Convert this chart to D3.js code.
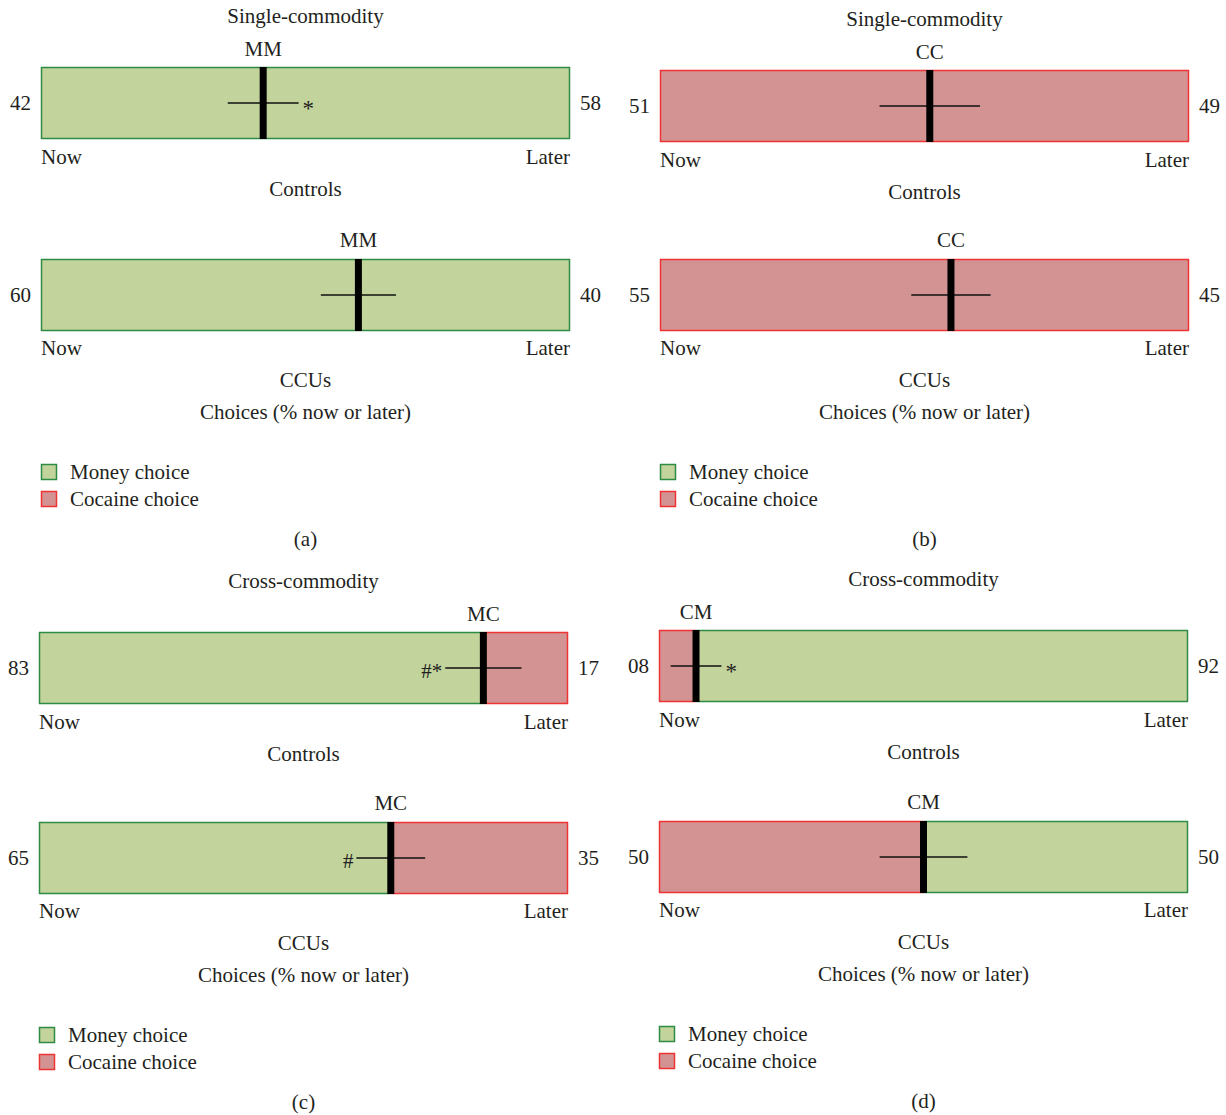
<!DOCTYPE html>
<html lang="en">
<head>
    <meta charset="UTF-8">
    <script src="https://cdn.jsdelivr.net/npm/d3@7"></script>
    <title>Now or later choices</title>
    <style>
        body { margin: 0; background: white; }
        svg text {
            font-family: 'Liberation Serif', 'DejaVu Serif', serif;
            font-size: 21px;
            fill: #231f20;
        }
    </style>
</head>
<body>
<div id="chart"></div>
<script>
    // Chart values
    const panelIds = ["(a)", "(b)", "(c)", "(d)"];
    const panelTitles = ["Single-commodity", "Single-commodity", "Cross-commodity", "Cross-commodity"];
    const rowLabels = [["MM", "MM"], ["CC", "CC"], ["MC", "MC"], ["CM", "CM"]];
    const groupNames = ["Controls", "CCUs"];
    const nowPct = [[42, 60], [51, 55], [83, 65], [8, 50]];          // printed % now
    const meanPct = [[42, 60], [51, 55], [84, 66.5], [7, 50]];       // thick line position
    const errPct = [[6.7, 7.1], [9.5, 7.5], [7.2, 6.5], [4.8, 8.3]];  // half width of error bar
    const nowCommodity = [["money", "money"], ["cocaine", "cocaine"], ["money", "money"], ["cocaine", "cocaine"]];
    const laterCommodity = [["money", "money"], ["cocaine", "cocaine"], ["cocaine", "cocaine"], ["money", "money"]];
    const leftMarks = [["", ""], ["", ""], ["#*", "#"], ["", ""]];
    const rightMarks = [["*", ""], ["", ""], ["", ""], ["*", ""]];
    const legendItems = ["Money choice", "Cocaine choice"];
    const legendKeys = ["money", "cocaine"];
    const axisEnds = ["Now", "Later"];

    const fills = { money: "#c2d39c", cocaine: "#d49393" };
    const strokes = { money: "#2f8a43", cocaine: "#ee3333" };

    const width = 1226, height = 1115;
    const svg = d3.select("#chart").append("svg")
        .attr("width", width)
        .attr("height", height);

    // where each panel sits: bar left edge, shift of the top row, shift of the rest
    const panelPos = [
        { left: 41, top: 0, rest: 0 },
        { left: 660, top: 3, rest: 0 },
        { left: 39, top: 565, rest: 563 },
        { left: 659, top: 563, rest: 562 }
    ];
    const barW = 529, barH = 72;
    const fmt = d3.format("02d");

    panelIds.forEach((id, p) => {
        const pos = panelPos[p];
        const x = d3.scaleLinear().domain([0, 100]).range([pos.left, pos.left + barW]);
        const cx = pos.left + barW / 2;
        const g = svg.append("g");

        // row layout: label, bar top, now/later, group name
        const rows = [
            { label: 49 + pos.top, bar: 67 + pos.top, ends: 157 + pos.top, group: 189 + pos.top },
            { label: 240 + pos.rest, bar: 259 + pos.rest, ends: 348 + pos.rest, group: 380 + pos.rest }
        ];

        g.append("text")
            .attr("x", cx).attr("y", 16 + pos.top)
            .attr("text-anchor", "middle").attr("dominant-baseline", "central")
            .text(panelTitles[p]);

        rows.forEach((r, i) => {
            const now = nowPct[p][i];
            const mean = meanPct[p][i];
            const midY = r.bar + barH / 2;

            // now part and later part of the bar
            g.append("rect")
                .attr("x", x(0)).attr("y", r.bar)
                .attr("width", x(mean) - x(0)).attr("height", barH)
                .attr("fill", fills[nowCommodity[p][i]]);
            g.append("rect")
                .attr("x", x(mean)).attr("y", r.bar)
                .attr("width", x(100) - x(mean)).attr("height", barH)
                .attr("fill", fills[laterCommodity[p][i]]);

            // outlines follow the commodity of each side
            const outline = (x0, x1, key) => {
                g.append("path")
                    .attr("d", `M${x0},${r.bar + 0.5}H${x1}M${x0},${r.bar + barH - 0.5}H${x1}`)
                    .attr("stroke", strokes[key]).attr("stroke-width", 1.5).attr("fill", "none");
            };
            outline(x(0), x(mean), nowCommodity[p][i]);
            outline(x(mean), x(100), laterCommodity[p][i]);
            g.append("line")
                .attr("x1", x(0) + 0.5).attr("x2", x(0) + 0.5)
                .attr("y1", r.bar).attr("y2", r.bar + barH)
                .attr("stroke", strokes[nowCommodity[p][i]]).attr("stroke-width", 1.5);
            g.append("line")
                .attr("x1", x(100) - 0.5).attr("x2", x(100) - 0.5)
                .attr("y1", r.bar).attr("y2", r.bar + barH)
                .attr("stroke", strokes[laterCommodity[p][i]]).attr("stroke-width", 1.5);

            // error bar and mean line
            const e0 = x(mean - errPct[p][i]), e1 = x(mean + errPct[p][i]);
            g.append("line")
                .attr("x1", e0).attr("x2", e1)
                .attr("y1", midY).attr("y2", midY)
                .attr("stroke", "#111").attr("stroke-width", 1.5);
            g.append("line")
                .attr("x1", x(mean)).attr("x2", x(mean))
                .attr("y1", r.bar).attr("y2", r.bar + barH)
                .attr("stroke", "#000").attr("stroke-width", 7);

            if (leftMarks[p][i]) {
                g.append("text")
                    .attr("x", e0 - 3).attr("y", midY + 3)
                    .attr("text-anchor", "end").attr("dominant-baseline", "central")
                    .style("font-size", "21px")
                    .text(leftMarks[p][i]);
            }
            if (rightMarks[p][i]) {
                g.append("text")
                    .attr("x", e1 + 4).attr("y", midY + 5)
                    .attr("dominant-baseline", "central")
                    .style("font-size", "23px")
                    .text(rightMarks[p][i]);
            }

            // labels around the bar
            g.append("text")
                .attr("x", x(mean)).attr("y", r.label)
                .attr("text-anchor", "middle").attr("dominant-baseline", "central")
                .text(rowLabels[p][i]);
            g.append("text")
                .attr("x", x(0) - 10).attr("y", midY)
                .attr("text-anchor", "end").attr("dominant-baseline", "central")
                .text(fmt(now));
            g.append("text")
                .attr("x", x(100) + 10).attr("y", midY)
                .attr("dominant-baseline", "central")
                .text(fmt(100 - now));
            g.append("text")
                .attr("x", x(0)).attr("y", r.ends)
                .attr("dominant-baseline", "central")
                .text(axisEnds[0]);
            g.append("text")
                .attr("x", x(100)).attr("y", r.ends)
                .attr("text-anchor", "end").attr("dominant-baseline", "central")
                .text(axisEnds[1]);
            g.append("text")
                .attr("x", cx).attr("y", r.group)
                .attr("text-anchor", "middle").attr("dominant-baseline", "central")
                .text(groupNames[i]);
        });

        g.append("text")
            .attr("x", cx).attr("y", 412 + pos.rest)
            .attr("text-anchor", "middle").attr("dominant-baseline", "central")
            .text("Choices (% now or later)");

        // legend
        legendItems.forEach((name, k) => {
            const ly = 472 + pos.rest + k * 27;
            g.append("rect")
                .attr("x", x(0) + 0.5).attr("y", ly - 7.5)
                .attr("width", 15).attr("height", 15)
                .attr("fill", fills[legendKeys[k]])
                .attr("stroke", strokes[legendKeys[k]]).attr("stroke-width", 1.5);
            g.append("text")
                .attr("x", x(0) + 29).attr("y", ly)
                .attr("dominant-baseline", "central")
                .text(name);
        });

        g.append("text")
            .attr("x", cx).attr("y", 539 + pos.rest)
            .attr("text-anchor", "middle").attr("dominant-baseline", "central")
            .text(id);
    });
</script>
</body>
</html>
